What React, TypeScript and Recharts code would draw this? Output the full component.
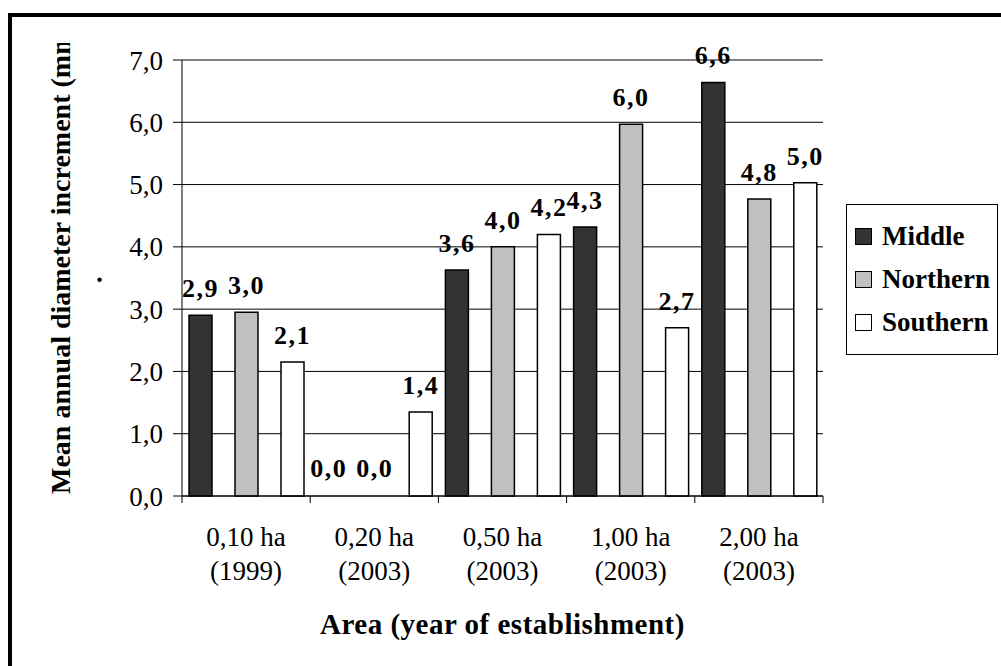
import React from 'react';
import { BarChart, Bar, XAxis, YAxis, CartesianGrid, ReferenceLine, LabelList, Legend, Rectangle } from 'recharts';

// plot sizes and establishment years
const areas = ['0,10 ha', '0,20 ha', '0,50 ha', '1,00 ha', '2,00 ha'];
const years = ['(1999)', '(2003)', '(2003)', '(2003)', '(2003)'];

// mean annual diameter increment (mm) per stand part
const middle = [2.9, 0, 3.63, 4.32, 6.64];
const northern = [2.95, 0, 4.0, 5.97, 4.77];
const southern = [2.15, 1.35, 4.2, 2.7, 5.03];

const yTicks = [0, 1, 2, 3, 4, 5, 6, 7];

const series = [
  { key: 'middle', name: 'Middle', fill: '#333333' },
  { key: 'northern', name: 'Northern', fill: '#c0c0c0' },
  { key: 'southern', name: 'Southern', fill: '#ffffff' },
];

const data = areas.map((area, i) => ({
  area,
  year: years[i],
  middle: middle[i],
  northern: northern[i],
  southern: southern[i],
}));

const FONT = '"Liberation Serif", "Times New Roman", serif';
const fmt = (v: any) => Number(v).toFixed(1).replace('.', ',');

// zero bars get a 1px stub so recharts keeps their label, but nothing is drawn
const zeroStub = (v: any) => (Number(v) === 0 ? 1 : 0);

const AreaTick = (props: any) => {
  const { x, y, index, width, payload } = props;
  const band = width / areas.length;
  const left = x - band / 2;
  return (
    <g>
      <line x1={left} x2={left} y1={y - 7} y2={y} stroke="#000" strokeWidth={1} />
      {index === areas.length - 1 && (
        <line x1={left + band} x2={left + band} y1={y - 7} y2={y} stroke="#000" strokeWidth={1} />
      )}
      <text x={x} y={y + 43} textAnchor="middle" fontFamily={FONT} fontSize={27} fill="#000">
        {payload.value}
      </text>
      <text x={x} y={y + 77} textAnchor="middle" fontFamily={FONT} fontSize={27} fill="#000">
        {years[index]}
      </text>
    </g>
  );
};

const XTitle = (props: any) => {
  const { viewBox } = props;
  return (
    <text
      x={viewBox.x + viewBox.width / 2}
      y={viewBox.y + 138}
      textAnchor="middle"
      fontFamily={FONT}
      fontSize={29}
      fontWeight="bold"
      letterSpacing={0.5}
      fill="#000"
    >
      Area (year of establishment)
    </text>
  );
};

const YTitle = () => (
  <g>
    <defs>
      <clipPath id="ytitle-clip">
        <rect x={0} y={43} width={180} height={500} />
      </clipPath>
    </defs>
    <g clipPath="url(#ytitle-clip)">
      <text
        transform="translate(70, 494) rotate(-90)"
        fontFamily={FONT}
        fontSize={28}
        fontWeight="bold"
        fill="#000"
      >
        Mean annual diameter increment (mm)
      </text>
    </g>
    <text x={96} y={282} fontFamily={FONT} fontSize={28} fontWeight="bold" fill="#000">
      .
    </text>
  </g>
);

const LegendBox = () => (
  <div
    style={{
      border: '1.5px solid #000',
      background: '#fff',
      boxSizing: 'border-box',
      width: 152,
      padding: '10px 0 10px 8px',
      fontFamily: FONT,
    }}
  >
    {series.map((s) => (
      <div key={s.key} style={{ display: 'flex', alignItems: 'center', height: 43 }}>
        <div
          style={{
            width: 15,
            height: 15,
            background: s.fill,
            border: '1.5px solid #000',
            marginRight: 10,
          }}
        />
        <span style={{ fontSize: 27, fontWeight: 'bold', color: '#000' }}>{s.name}</span>
      </div>
    ))}
  </div>
);

export default function App() {
  return (
    <div
      style={{
        position: 'absolute',
        left: 0,
        top: 0,
        width: 1001,
        height: 666,
        overflow: 'hidden',
        background: '#fff',
      }}
    >
      <div
        style={{
          position: 'absolute',
          left: 8,
          top: 13,
          width: 1020,
          height: 680,
          border: '4px solid #000',
        }}
      />
      <div style={{ position: 'absolute', left: 0, top: 0 }}>
        <BarChart
          width={1001}
          height={666}
          data={data}
          margin={{ top: 60, right: 178, bottom: 0, left: 0 }}
          barSize={23}
          barGap={23}
        >
          <CartesianGrid vertical={false} stroke="#000" strokeWidth={1} />
          <XAxis
            dataKey="area"
            height={170}
            stroke="#000"
            tickLine={false}
            tickSize={7}
            tickMargin={0}
            interval={0}
            tick={<AreaTick />}
            label={<XTitle />}
          />
          <YAxis
            width={182}
            domain={[0, 7]}
            ticks={yTicks}
            interval={0}
            tickFormatter={fmt}
            stroke="#000"
            tickSize={9}
            tickMargin={10}
            tick={{ fill: '#000', fontFamily: FONT, fontSize: 27 }}
            label={<YTitle />}
          />
          <YAxis
            yAxisId="r"
            orientation="right"
            width={0}
            domain={[0, 7]}
            tick={false}
            tickLine={false}
            axisLine={{ stroke: '#808080', strokeWidth: 1.5 }}
          />
          <ReferenceLine y={7} stroke="#808080" strokeWidth={1.5} />
          <Legend
            layout="horizontal"
            verticalAlign="middle"
            align="center"
            wrapperStyle={{ left: 846, top: 204, width: 152 }}
            content={() => <LegendBox />}
          />
          {series.map((s) => (
            <Bar
              key={s.key}
              dataKey={s.key}
              name={s.name}
              fill={s.fill}
              stroke="#000"
              strokeWidth={1.5}
              minPointSize={zeroStub}
              shape={(p: any) => (p.payload[s.key] === 0 ? <g /> : <Rectangle {...p} />)}
              isAnimationActive={false}
            >
              <LabelList
                dataKey={s.key}
                position="top"
                offset={18}
                formatter={fmt}
                fill="#000"
                fontFamily={FONT}
                fontSize={26}
                fontWeight="bold"
                letterSpacing={1.5}
              />
            </Bar>
          ))}
        </BarChart>
      </div>
    </div>
  );
}
